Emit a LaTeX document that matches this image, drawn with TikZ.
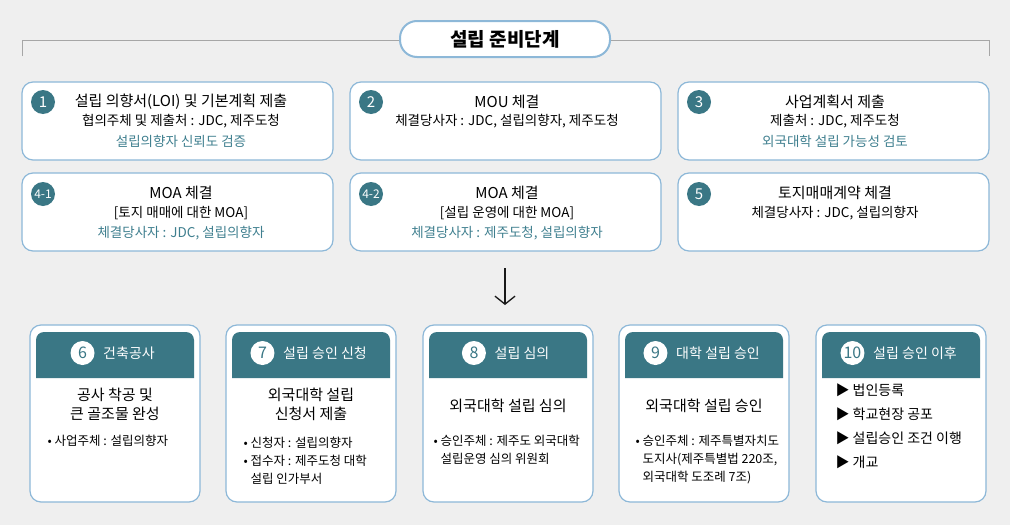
\documentclass[tikz,border=0pt]{standalone}
\usepackage{fontspec}
\setmainfont{Noto Sans CJK KR}
\usetikzlibrary{arrows.meta,positioning}
\definecolor{teal1}{HTML}{3A7785}
\definecolor{tealtxt}{HTML}{3F7F8F}
\definecolor{edgeblue}{HTML}{8DB8D8}
\definecolor{bggray}{HTML}{EFEFEF}

\begin{document}
\begin{tikzpicture}[x=1pt,y=-1pt,
  prep box/.style={draw=edgeblue,line width=1.2pt,fill=white,rounded corners=11pt},
  num dot/.style={circle,fill=teal1,text=white,minimum size=24pt,inner sep=0pt,font=\fontsize{15}{15}\selectfont},
  head dot/.style={circle,fill=white,text=teal1,minimum size=24pt,inner sep=0pt,font=\fontsize{16}{16}\selectfont},
  main text/.style={align=center,font=\fontsize{15}{19}\selectfont},
  sub text/.style={align=center,font=\fontsize{13.5}{16}\selectfont},
  note text/.style={align=center,text=tealtxt,font=\fontsize{13.5}{16}\selectfont},
  body text/.style={align=left,anchor=north west,font=\fontsize{12.5}{18}\selectfont}]

  \fill[bggray] (0,0) rectangle (1010,525);

  % title bracket
  \draw[gray!70,line width=0.8pt] (22,56) -- (22,40) -- (989,40) -- (989,56);
  \node[draw=edgeblue,line width=2pt,fill=white,rounded corners=17pt,minimum width=210pt,
    minimum height=36pt,font=\fontsize{19}{19}\selectfont\bfseries] (title) at (505,39) {설립 준비단계};

  % preparation boxes
  \draw[prep box] (22,82) rectangle (333,160);
  \draw[prep box] (350,82) rectangle (661,160);
  \draw[prep box] (678,82) rectangle (989,160);
  \draw[prep box] (22,173) rectangle (333,251);
  \draw[prep box] (350,173) rectangle (661,251);
  \draw[prep box] (678,173) rectangle (989,251);

  \node[num dot] (n1) at (43,102) {1};
  \node[num dot] (n2) at (371,102) {2};
  \node[num dot] (n3) at (699,102) {3};
  \node[num dot,font=\fontsize{12}{12}\selectfont] (n41) at (43,194) {4-1};
  \node[num dot,font=\fontsize{12}{12}\selectfont] (n42) at (371,194) {4-2};
  \node[num dot] (n5) at (699,194) {5};

  \node[main text] (t1) at (181,102) {설립 의향서(LOI) 및 기본계획 제출};
  \node[sub text] (s1) at (181,121) {협의주체 및 제출처 : JDC, 제주도청};
  \node[note text] (c1) at (181,141) {설립의향자 신뢰도 검증};

  \node[main text] (t2) at (507,102) {MOU 체결};
  \node[sub text] (s2) at (507,121) {체결당사자 : JDC, 설립의향자, 제주도청};

  \node[main text] (t3) at (835,102) {사업계획서 제출};
  \node[sub text] (s3) at (835,121) {제출처 : JDC, 제주도청};
  \node[note text] (c3) at (835,141) {외국대학 설립 가능성 검토};

  \node[main text] (t41) at (181,193) {MOA 체결};
  \node[sub text] (s41) at (181,213) {[토지 매매에 대한 MOA]};
  \node[note text] (c41) at (181,233) {체결당사자 : JDC, 설립의향자};

  \node[main text] (t42) at (507,193) {MOA 체결};
  \node[sub text] (s42) at (507,213) {[설립 운영에 대한 MOA]};
  \node[note text] (c42) at (507,233) {체결당사자 : 제주도청, 설립의향자};

  \node[main text] (t5) at (835,193) {토지매매계약 체결};
  \node[sub text] (s5) at (835,213) {체결당사자 : JDC, 설립의향자};

  % arrow
  \coordinate (a1) at (505,268);
  \coordinate (a2) at (505,305);
  \draw[-{Straight Barb[length=8pt,width=20pt]},line width=1.3pt,gray!20!black] (a1) -- (a2);

  % step cards
  \foreach \x/\n/\h in {30/6/건축공사,226/7/설립 승인 신청,423/8/설립 심의,619/9/대학 설립 승인,816/10/설립 승인 이후}{
    \draw[prep box] (\x,325) rectangle ++(170,177);
    \fill[teal1,rounded corners=8pt] (\x+6,378) [sharp corners] -- (\x+6,360) [rounded corners=8pt] -- (\x+6,332) -- (\x+164,332) -- (\x+164,360) [sharp corners] -- (\x+164,378) -- cycle;
    \node[text=white,font=\fontsize{14}{14}\selectfont] (h\n) at (\x+99,353) {\h};
    \node[head dot,left=5pt of h\n] (d\n) {\n};
  }

  \node[main text] (m6) at (115,404) {공사 착공 및\\큰 골조물 완성};
  \node[body text] (b6) at (44,432) {• 사업주체 : 설립의향자};

  \node[main text] (m7) at (311,404) {외국대학 설립\\신청서 제출};
  \node[body text] (b7) at (240,434) {• 신청자 : 설립의향자\\• 접수자 : 제주도청 대학\\\phantom{• }설립 인가부서};

  \node[main text] (m8) at (508,406) {외국대학 설립 심의};
  \node[body text] (b8) at (430,432) {• 승인주체 : 제주도 외국대학\\\phantom{• }설립운영 심의 위원회};

  \node[main text] (m9) at (704,406) {외국대학 설립 승인};
  \node[body text] (b9) at (632,432) {• 승인주체 : 제주특별자치도\\\phantom{• }도지사(제주특별법 220조,\\\phantom{• }외국대학 도조례 7조)};

  \node[body text,font=\fontsize{14}{24}\selectfont] (b10) at (832,380) {▶ 법인등록\\▶ 학교현장 공포\\▶ 설립승인 조건 이행\\▶ 개교};
\end{tikzpicture}
\end{document}
